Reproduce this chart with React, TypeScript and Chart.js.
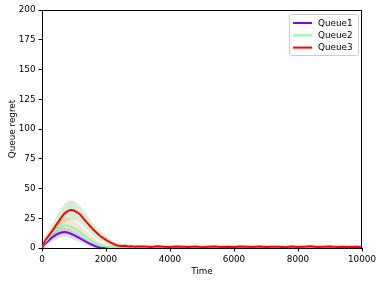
import { useEffect, useRef } from "react";
import { Chart, registerables } from "chart.js";
Chart.register(...registerables);

const FONT = "'DejaVu Sans', sans-serif";

const TIMES = [0,100,200,300,400,500,600,700,800,900,1000,1100,1200,1300,1400,1500,1600,1700,1800,1900,2000,2100,2200,2300,2400,2500,2600,2700,2800,2900,3000,
  3200,3400,3600,3800,4000,4200,4400,4600,4800,5000,5200,5400,5600,5800,6000,6200,6400,6600,6800,7000,7200,7400,7600,7800,8000,8200,8400,8600,8800,9000,9200,9400,9600,9800,10000];

const Q1_MEAN = [0,3.5,6,8.5,10.5, 12,13,13.4,13,12, 10.8,9.3,7.8,6.4,5, 3.5,2.3,1.2,0.5,0.2, 0.1,0,0,0,0, 0,0,0,0,0, 0,
  0,0,0.1,0,0, 0,0,0.1,0,0, 0,0,0,0.1,0, 0,0,0,0,0, 0.1,0,0,0,0, 0,0,0,0.1,0, 0,0,0,0,0];
const Q1_SPREAD = [0,1.5,2.5,3,3.5, 4,4,4,4,4, 3.8,3.5,3.2,3,2.6, 2.2,1.8,1.4,1,0.7, 0.5,0.4,0.3,0.3,0.2, 0.2,0.2,0.2,0.2,0.2, 0.2,
  0.2,0.2,0.2,0.2,0.2, 0.2,0.2,0.2,0.2,0.2, 0.2,0.2,0.2,0.2,0.2, 0.2,0.2,0.2,0.2,0.2, 0.2,0.2,0.2,0.2,0.2, 0.2,0.2,0.2,0.2,0.2, 0.2,0.2,0.2,0.2,0.2];

const Q2_MEAN = [0,5,8.5,11.5,14.5, 16.5,18,19,19,18, 16.5,15,13,11,9, 7.2,5.4,3.9,2.8,1.9, 1.3,0.9,0.7,0.5,0.4, 0.4,0.3,0.3,0.3,0.3, 0.3,
  0.3,0.2,0.4,0.3,0.2, 0.3,0.4,0.2,0.3,0.3, 0.2,0.4,0.3,0.2,0.3, 0.3,0.2,0.4,0.3,0.2, 0.3,0.3,0.2,0.4,0.3, 0.2,0.3,0.3,0.4,0.2, 0.3,0.2,0.3,0.3,0.2];
const Q2_SPREAD = [0,2,3,4,5, 5.5,6,6.5,6.5,6.5, 6.5,6.2,5.8,5.4,5, 4.5,4,3.4,2.8,2.3, 1.9,1.6,1.4,1.2,1.1, 1,0.9,0.9,0.8,0.8, 0.8,
  0.8,0.7,0.9,0.8,0.7, 0.8,0.9,0.7,0.8,0.8, 0.7,0.9,0.8,0.7,0.8, 0.8,0.7,0.9,0.8,0.7, 0.8,0.8,0.7,0.9,0.8, 0.7,0.8,0.8,0.9,0.7, 0.8,0.7,0.8,0.8,0.7];

const Q3_MEAN = [0,6.5,10,13.5,17.5, 21.5,25.5,29,31,32, 31.5,30,28,24.5,21.5, 18.5,15.5,13,10.5,8.5, 6.8,5.2,3.8,2.5,1.9, 1.6,1.8,1.3,1.5,1.1, 1.3,
  1.2,0.9,1.4,1.0,0.8, 1.3,1.1,0.9,1.2,0.7, 1.0,1.3,0.9,1.1,0.8, 1.2,1.0,0.9,1.3,0.8, 1.1,1.0,0.7,1.2,0.9, 1.1,1.4,0.8,1.0,1.2, 0.9,1.1,0.8,1.0,0.9];
const Q3_SPREAD = [0,3,4.5,5.5,6.5, 7,7.5,8,8,8, 8,7.5,7,6.5,6, 5.5,5,4.5,4,3.5, 3,2.8,2.5,2.2,2, 1.8,1.7,1.6,1.6,1.5, 1.5,
  1.5,1.4,1.6,1.5,1.3, 1.5,1.6,1.4,1.5,1.3, 1.4,1.6,1.5,1.4,1.3, 1.5,1.4,1.6,1.5,1.4, 1.5,1.3,1.4,1.6,1.5, 1.4,1.5,1.6,1.4,1.5, 1.3,1.5,1.4,1.5,1.4];

const X_TICKS = [0, 2000, 4000, 6000, 8000, 10000];
const Y_TICKS = [0, 25, 50, 75, 100, 125, 150, 175, 200];

const SERIES = [
  { label: "Queue1", mean: Q1_MEAN, spread: Q1_SPREAD, line: "#8000ff", band: "rgba(31,119,180,0.2)" },
  { label: "Queue2", mean: Q2_MEAN, spread: Q2_SPREAD, line: "#80ffb4", band: "rgba(255,127,14,0.2)" },
  { label: "Queue3", mean: Q3_MEAN, spread: Q3_SPREAD, line: "#ff0000", band: "rgba(44,160,44,0.2)" },
];

const framePlugin = {
  id: "frameAndLegend",
  afterDraw(chart: any) {
    const ctx = chart.ctx;
    const { left, right, top, bottom } = chart.chartArea;
    ctx.save();
    ctx.strokeStyle = "#000";
    ctx.lineWidth = 1;
    const t = Math.round(top) + 0.5;
    const r = Math.round(right) - 0.5;
    ctx.beginPath();
    ctx.moveTo(Math.round(left), t);
    ctx.lineTo(r, t);
    ctx.lineTo(r, Math.round(bottom));
    ctx.stroke();

    // legend box
    const x0 = right - 73, y0 = top + 4, w = 69, h = 41;
    ctx.fillStyle = "rgba(255,255,255,0.8)";
    ctx.strokeStyle = "#cccccc";
    ctx.lineWidth = 1;
    ctx.beginPath();
    ctx.roundRect(x0 + 0.5, y0 + 0.5, w, h, 2);
    ctx.fill();
    ctx.stroke();
    ctx.font = `8.8px ${FONT}`;
    ctx.textBaseline = "middle";
    ctx.textAlign = "left";
    SERIES.forEach((s, i) => {
      const y = y0 + 9 + i * 12.3;
      ctx.strokeStyle = s.line;
      ctx.lineWidth = 2;
      ctx.beginPath();
      ctx.moveTo(x0 + 4, y);
      ctx.lineTo(x0 + 23, y);
      ctx.stroke();
      ctx.fillStyle = "#000";
      ctx.fillText(s.label, x0 + 29, y + 0.5);
    });
    ctx.restore();
  },
};

export default function App() {
  const ref = useRef<HTMLCanvasElement>(null);
  useEffect(() => {
    if (!ref.current) return;
    const datasets: any[] = [];
    SERIES.forEach((s, i) => {
      datasets.push({
        label: s.label,
        data: TIMES.map((t, k) => ({ x: t, y: s.mean[k] })),
        borderColor: s.line,
        backgroundColor: s.line,
        borderWidth: 2,
        pointRadius: 0,
        fill: false,
        tension: 0,
        order: 3 - i,
      });
    });
    SERIES.forEach((s, i) => {
      datasets.push({
        label: s.label + " upper",
        data: TIMES.map((t, k) => ({ x: t, y: s.mean[k] + s.spread[k] })),
        borderColor: "rgba(0,0,0,0)",
        backgroundColor: s.band,
        borderWidth: 0,
        pointRadius: 0,
        fill: "+1",
        tension: 0,
        order: 10 + i,
      });
      datasets.push({
        label: s.label + " lower",
        data: TIMES.map((t, k) => ({ x: t, y: s.mean[k] - s.spread[k] })),
        borderColor: "rgba(0,0,0,0)",
        backgroundColor: "rgba(0,0,0,0)",
        borderWidth: 0,
        pointRadius: 0,
        fill: false,
        tension: 0,
        order: 10 + i,
      });
    });

    const tickFont = { family: FONT, size: 8.8 };
    const chart = new Chart(ref.current, {
      type: "line",
      data: { datasets },
      options: {
        animation: false,
        responsive: false,
        devicePixelRatio: 1,
        layout: { padding: { left: 0, top: 10, right: 20, bottom: 0 } },
        plugins: { legend: { display: false }, tooltip: { enabled: false } },
        scales: {
          x: {
            type: "linear",
            min: 0,
            max: 10000,
            afterBuildTicks: (s: any) => { s.ticks = X_TICKS.map((v) => ({ value: v })); },
            afterFit: (s: any) => { s.height = 34; },
            ticks: { color: "#000", font: tickFont, padding: 2.5, maxRotation: 0, autoSkip: false, callback: (v: any) => String(v) },
            grid: { display: true, drawOnChartArea: false, drawTicks: true, tickLength: 3.5, color: "#000", lineWidth: 1 },
            border: { display: true, color: "#000", width: 1 },
            title: { display: true, text: "Time", color: "#000", font: tickFont, padding: { top: 0, bottom: 5.5 } },
          },
          y: {
            type: "linear",
            min: 0,
            max: 200,
            afterBuildTicks: (s: any) => { s.ticks = Y_TICKS.map((v) => ({ value: v })); },
            afterFit: (s: any) => { s.width = 42; },
            ticks: { color: "#000", font: tickFont, padding: 3, autoSkip: false, callback: (v: any) => String(v) },
            grid: { display: true, drawOnChartArea: false, drawTicks: true, tickLength: 3.5, color: "#000", lineWidth: 1 },
            border: { display: true, color: "#000", width: 1 },
            title: { display: true, text: "Queue regret", color: "#000", font: tickFont, padding: { top: 7, bottom: 0 } },
          },
        },
      },
      plugins: [framePlugin],
    } as any);
    return () => chart.destroy();
  }, []);

  return (
    <div style={{ position: "absolute", left: 0, top: 0, width: 382, height: 282, background: "#fff" }}>
      <canvas ref={ref} width={382} height={282} style={{ display: "block" }} />
    </div>
  );
}
